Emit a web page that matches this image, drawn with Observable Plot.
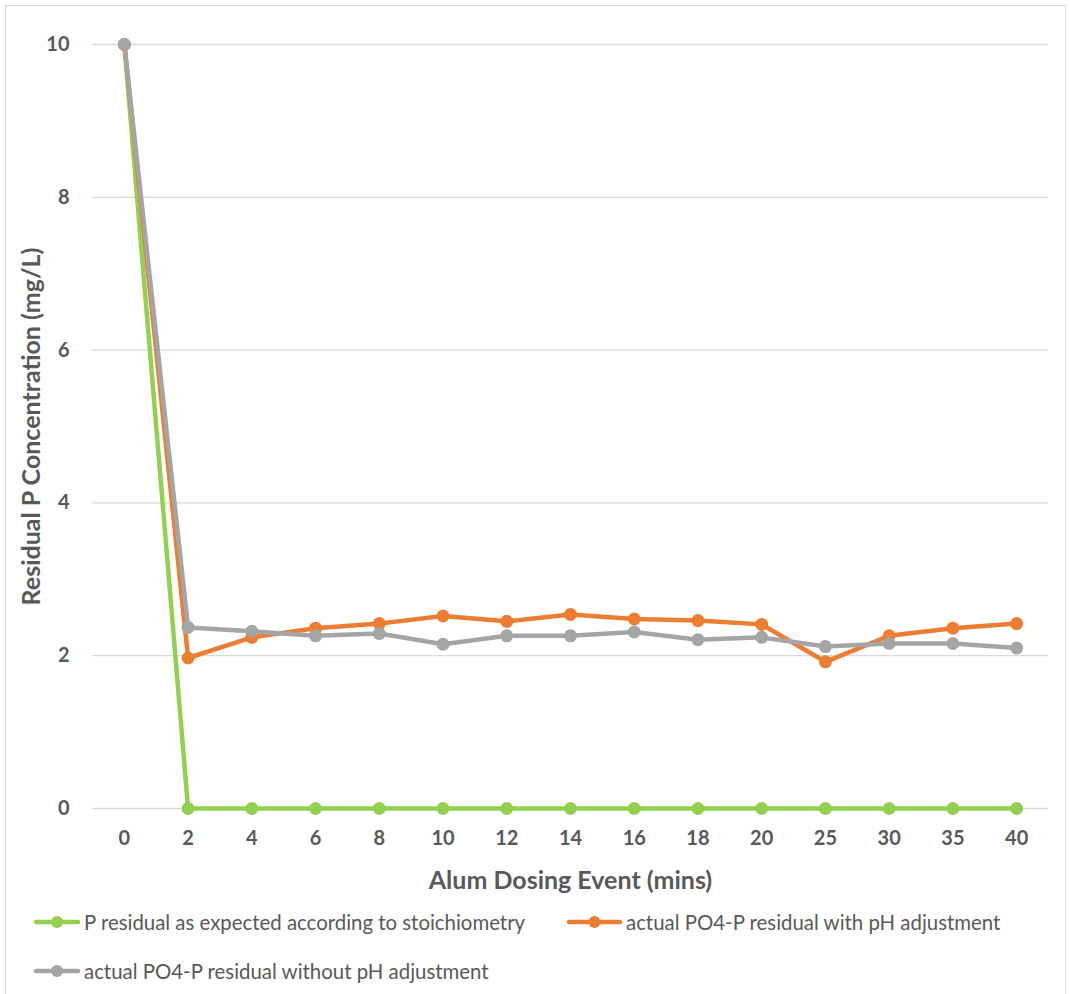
<!DOCTYPE html>
<html>
<head>
<meta charset="utf-8">
<script src="https://cdn.jsdelivr.net/npm/d3@7"></script>
<script src="https://cdn.jsdelivr.net/npm/@observablehq/plot@0.6"></script>
<style>
  body { margin: 0; background: #fff; font-family: Lato, "Open Sans", sans-serif; }
  #wrap { position: relative; width: 1070px; height: 994px; overflow: hidden; }
  #frame { position: absolute; left: 5px; top: 5px; width: 1061px; height: 1000px; border: 1px solid #d9d9d9; box-sizing: border-box; }
  #chart { position: absolute; left: 0; top: 0; }
  .leg { position: absolute; display: flex; align-items: center; color: #595959; font-size: 20.4px; white-space: nowrap; }
  .leg svg { margin-right: 3px; }
</style>
</head>
<body>
<div id="wrap">
  <div id="frame"></div>
  <div id="chart"></div>
  <div class="leg" style="left:33px; top:910px;" id="leg0"></div>
  <div class="leg" style="left:566px; top:910px;" id="leg1"></div>
  <div class="leg" style="left:33px; top:959px;" id="leg2"></div>
</div>
<script>
const categories = ["0","2","4","6","8","10","12","14","16","18","20","25","30","35","40"];
const stoichiometry = [10,0,0,0,0,0,0,0,0,0,0,0,0,0,0];
const withPH = [10,1.97,2.24,2.36,2.42,2.52,2.45,2.54,2.48,2.46,2.41,1.92,2.26,2.36,2.42];
const withoutPH = [10,2.37,2.32,2.26,2.29,2.15,2.26,2.26,2.31,2.21,2.24,2.12,2.16,2.16,2.10];
const yTicks = [0,2,4,6,8,10];
const seriesNames = [
  "P residual as expected according to stoichiometry",
  "actual PO4-P residual with pH adjustment",
  "actual PO4-P residual without pH adjustment"
];
const seriesColors = ["#92d050", "#ed7d31", "#a5a5a5"];
const seriesValues = [stoichiometry, withPH, withoutPH];

const data = [];
seriesValues.forEach((vals, si) => vals.forEach((v, i) => data.push({series: seriesNames[si], cat: categories[i], value: v})));

const chart = Plot.plot({
  width: 1070,
  height: 900,
  marginLeft: 92,
  marginRight: 22,
  marginTop: 44,
  marginBottom: 92,
  style: {fontFamily: "Lato, 'Open Sans', sans-serif", color: "#595959", background: "transparent"},
  x: {type: "point", domain: categories, padding: 0.5, round: false},
  y: {domain: [0, 10], ticks: yTicks},
  color: {domain: seriesNames, range: seriesColors},
  marks: [
    Plot.gridY(yTicks, {stroke: "#d9d9d9", strokeOpacity: 1, strokeWidth: 1.3}),
    Plot.axisY(yTicks, {tickSize: 0, tickPadding: 23, fontSize: 20, fontWeight: "bold", fill: "#595959", tickFormat: d => String(d),
      label: "Residual P Concentration (mg/L)", labelAnchor: "center", labelArrow: "none", labelOffset: 70}),
    Plot.axisX({tickSize: 0, tickPadding: 22, fontSize: 20, fontWeight: "bold", fill: "#595959",
      label: "Alum Dosing Event (mins)", labelAnchor: "center", labelArrow: "none", labelOffset: 80}),
    ...seriesNames.map(name => Plot.line(data.filter(d => d.series === name), {x: "cat", y: "value", stroke: "series", strokeWidth: 4.5, strokeLinejoin: "round", strokeLinecap: "round"})),
    ...seriesNames.map(name => Plot.dot(data.filter(d => d.series === name), {x: "cat", y: "value", fill: "series", r: 6.5}))
  ]
});
chart.querySelectorAll("[aria-label='y-axis label'] text, [aria-label='x-axis label'] text").forEach(t => {
  t.setAttribute("font-size", "25");
  t.setAttribute("font-weight", "bold");
  t.style.fontSize = "25px";
  t.style.fontWeight = "bold";
  t.style.fill = "#595959";
});
document.getElementById("chart").appendChild(chart);

const swatchW = [48, 57, 48];
seriesNames.forEach((name, i) => {
  const el = document.getElementById("leg" + i);
  const w = swatchW[i];
  el.innerHTML = `<svg width="${w}" height="14"><line x1="3" y1="7" x2="${w - 3}" y2="7" stroke="${seriesColors[i]}" stroke-width="4.5" stroke-linecap="round"/><circle cx="${w / 2}" cy="7" r="6" fill="${seriesColors[i]}"/></svg><span>${name}</span>`;
});
</script>
</body>
</html>
